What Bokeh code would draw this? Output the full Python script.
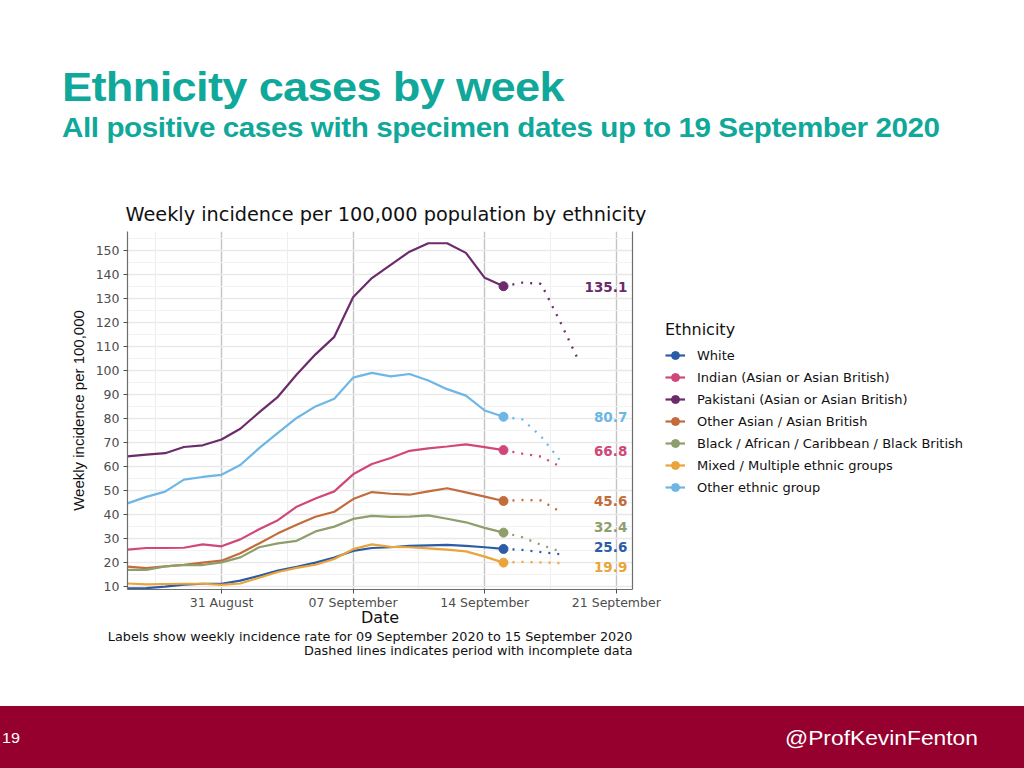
import pandas as pd
from bokeh.plotting import figure
from bokeh.models import (Range1d, FixedTicker, DatetimeTickFormatter, Legend, LegendItem,
                          Title, Div, LinearAxis)
from bokeh.layouts import column, row
from bokeh.embed import file_html
from bokeh.resources import INLINE
from bokeh.core.properties import value

# ---------------- data ----------------
slide_title = "Ethnicity cases by week"
slide_subtitle = "All positive cases with specimen dates up to 19 September 2020"
chart_title = "Weekly incidence per 100,000 population by ethnicity"
caption_1 = "Labels show weekly incidence rate for 09 September 2020 to 15 September 2020"
caption_2 = "Dashed lines indicates period with incomplete data"
x_label = "Date"
y_label = "Weekly incidence per 100,000"
legend_title = "Ethnicity"
page_number = "19"
handle = "@ProfKevinFenton"

dates = ["2020-08-26", "2020-08-27", "2020-08-28", "2020-08-29", "2020-08-30", "2020-08-31",
         "2020-09-01", "2020-09-02", "2020-09-03", "2020-09-04", "2020-09-05", "2020-09-06",
         "2020-09-07", "2020-09-08", "2020-09-09", "2020-09-10", "2020-09-11", "2020-09-12",
         "2020-09-13", "2020-09-14", "2020-09-15"]
dotted_dates = ["2020-09-15", "2020-09-16", "2020-09-17", "2020-09-18", "2020-09-19"]

groups = ["White",
          "Indian (Asian or Asian British)",
          "Pakistani (Asian or Asian British)",
          "Other Asian / Asian British",
          "Black / African / Caribbean / Black British",
          "Mixed / Multiple ethnic groups",
          "Other ethnic group"]

white = [9.2, 9.3, 9.9, 10.7, 11.1, 11.1, 12.4, 14.4, 16.6, 18.2, 19.9, 22.0, 24.8, 26.0,
         26.3, 26.9, 27.1, 27.3, 26.9, 26.3, 25.6]
indian = [25.3, 26.0, 26.0, 26.1, 27.5, 26.7, 29.6, 33.8, 37.6, 43.2, 46.6, 49.6, 56.7, 61.0,
          63.5, 66.5, 67.5, 68.3, 69.2, 68.0, 66.8]
pakistani = [64.2, 64.9, 65.5, 68.1, 68.8, 71.2, 75.7, 82.5, 89.0, 98.3, 106.7, 114.0, 130.5,
             138.5, 144.0, 149.5, 153.0, 153.0, 149.0, 138.6, 135.1]
other_asian = [18.2, 17.6, 18.3, 19.0, 19.9, 20.7, 23.8, 27.9, 32.1, 35.7, 39.0, 41.1, 46.4,
               49.3, 48.6, 48.2, 49.6, 50.9, 49.2, 47.4, 45.6]
black = [16.9, 16.9, 18.3, 18.9, 18.9, 20.0, 22.1, 26.3, 27.9, 29.0, 32.9, 34.9, 38.1, 39.4,
         39.0, 39.1, 39.6, 38.2, 36.7, 34.4, 32.4]
mixed = [11.2, 10.8, 11.0, 11.1, 11.1, 10.6, 11.2, 13.6, 16.0, 17.7, 19.0, 21.4, 25.5, 27.5,
         26.5, 26.3, 25.8, 25.3, 24.6, 22.4, 19.9]
other = [44.6, 47.3, 49.5, 54.5, 55.6, 56.5, 60.6, 67.6, 74.0, 80.2, 85.0, 88.2, 97.0, 99.0,
         97.5, 98.5, 95.8, 92.2, 89.5, 83.3, 80.7]

white_dot = [25.6, 25.2, 24.3, 23.4]
indian_dot = [66.8, 65.3, 64.1, 60.0]
pakistani_dot = [135.1, 136.6, 136.1, 120.5, 104.0]
other_asian_dot = [45.6, 46.0, 45.8, 41.2]
black_dot = [32.4, 30.5, 27.3, 24.6]
mixed_dot = [19.9, 20.2, 20.0, 19.7]
other_dot = [80.7, 79.6, 72.5, 62.6]

y_ticks = [10, 20, 30, 40, 50, 60, 70, 80, 90, 100, 110, 120, 130, 140, 150]
x_tick_dates = ["2020-08-31", "2020-09-07", "2020-09-14", "2020-09-21"]

# ---------------- styles ----------------
colors = ["#2B5DA6", "#D0487B", "#6B2C6C", "#C26C3B", "#8E9E6C", "#EAA43A", "#6DB6E5"]
label_nudge = [-2, 1, 1, 0, -6, 4, 0]   # px, repel-like offsets of end labels
FONT = "DejaVu Sans"


def ms(s):
    return pd.Timestamp(s).value // 10**6


x_start = pd.Timestamp("2020-08-26")
x_end = pd.Timestamp("2020-09-21 20:40")
label_x = pd.Timestamp("2020-09-21 14:00")

p = figure(width=665, height=516, x_axis_type="datetime",
           x_range=Range1d(x_start, x_end), y_range=Range1d(8.7, 157.9),
           output_backend="svg", toolbar_location=None,
           min_border_left=127, min_border_right=33, min_border_top=41, min_border_bottom=117,
           background_fill_color="white", border_fill_color="white")
p.outline_line_color = None

p.title.text = chart_title
p.title.text_font = FONT
p.title.text_font_size = "19.3px"
p.title.text_font_style = "normal"
p.title.text_color = "#111111"
p.title.align = "left"
p.title.offset = -2
p.title.standoff = 12

# axes
p.xaxis.ticker = FixedTicker(ticks=[ms(d) for d in x_tick_dates],
                             minor_ticks=[ms("2020-08-27 12:00"), ms("2020-09-03 12:00"),
                                          ms("2020-09-10 12:00"), ms("2020-09-17 12:00")])
fmt = "%d %B"
p.xaxis.formatter = DatetimeTickFormatter(milliseconds=fmt, seconds=fmt, minsec=fmt, minutes=fmt,
                                          hourmin=fmt, hours=fmt, days=fmt, months=fmt, years=fmt)
p.yaxis.ticker = FixedTicker(ticks=y_ticks, minor_ticks=[t + 5 for t in y_ticks])

for ax in (p.xaxis[0], p.yaxis[0]):
    ax.axis_line_color = "#6e6e6e"
    ax.axis_line_width = 1.2
    ax.major_tick_line_color = "#4d4d4d"
    ax.major_tick_in = 0
    ax.major_tick_out = 4
    ax.minor_tick_line_color = None
    ax.major_label_text_font = FONT
    ax.major_label_text_font_size = "12.5px"
    ax.major_label_text_color = "#4D4D4D"
    ax.axis_label_text_font = FONT
    ax.axis_label_text_font_style = "normal"
    ax.axis_label_text_color = "#111111"

p.xaxis.axis_label = x_label
p.xaxis.axis_label_text_font_size = "16px"
p.xaxis.major_label_standoff = 1
p.xaxis.axis_label_standoff = -5
p.yaxis.axis_label = y_label
p.yaxis.axis_label_text_font = "Liberation Sans"
p.yaxis.axis_label_text_font_size = "15px"
p.yaxis.major_label_standoff = 4
p.yaxis.axis_label_standoff = 6

right_axis = LinearAxis(ticker=FixedTicker(ticks=[]), axis_line_color="#6e6e6e",
                        axis_line_width=1.2, major_tick_line_color=None, major_tick_out=0,
                        major_label_standoff=0, minor_tick_line_color=None,
                        major_label_text_font_size="0px")
p.add_layout(right_axis, "right")

# grid
p.xgrid.grid_line_color = "#c4c4c4"
p.xgrid.grid_line_width = 1.4
p.xgrid.minor_grid_line_color = "#eeeeee"
p.xgrid.minor_grid_line_width = 1
p.ygrid.grid_line_color = "#e9e9e9"
p.ygrid.grid_line_width = 1.5
p.ygrid.minor_grid_line_color = "#f3f3f3"
p.ygrid.minor_grid_line_width = 1

series = [white, indian, pakistani, other_asian, black, mixed, other]
series_dot = [white_dot, indian_dot, pakistani_dot, other_asian_dot, black_dot, mixed_dot, other_dot]

# legend panel: a separate canvas whose ranges keep its copies of the series out of view,
# so only the legend (not clipped by the chart frame) shows there
pl = figure(width=359, height=516, min_border=0, x_axis_location=None, y_axis_location=None,
            x_range=Range1d(0, 1), y_range=Range1d(0, 1),
            toolbar_location=None, output_backend="svg", outline_line_color=None,
            background_fill_color="white", border_fill_color="white")
pl.xgrid.visible = False
pl.ygrid.visible = False

x_solid = pd.to_datetime(dates)
items = []
for name, vals, dvals, col, nudge in zip(groups, series, series_dot, colors, label_nudge):
    p.line(x=x_solid, y=vals, line_color=col, line_width=2.2)
    p.line(x=pd.to_datetime(dotted_dates[:len(dvals)]), y=dvals, line_color=col,
           line_width=2.3, line_dash="2 7")
    p.scatter(x=[x_solid[-1]], y=[vals[-1]], size=9, fill_color=col, line_color=col)
    p.text(x=[label_x], y=[vals[-1]], text=[f"{vals[-1]:.1f}"], text_align="right",
           text_baseline="middle", y_offset=nudge, text_color=col,
           text_font=value(FONT), text_font_style="bold", text_font_size="13.5px")
    leg_line = pl.line(x=x_solid, y=vals, line_color=col, line_width=2.2)
    leg_dot = pl.scatter(x=[x_solid[-1]], y=[vals[-1]], size=6, fill_color=col, line_color=col)
    items.append(LegendItem(label=name, renderers=[leg_line, leg_dot]))

legend = Legend(items=items, location=(0, 92), title=legend_title,
                title_text_font=FONT, title_text_font_size="16px", title_text_font_style="normal",
                title_text_color="#111111", title_standoff=6,
                label_text_font=FONT, label_text_font_size="13px", label_text_color="#111111",
                glyph_width=20, glyph_height=20, label_height=20, label_standoff=12,
                spacing=2, padding=0, margin=0, border_line_color=None,
                background_fill_alpha=0)
pl.add_layout(legend)

p.add_layout(Title(text=caption_1, align="right", text_font=FONT, text_font_size="12.8px",
                   text_font_style="normal", text_color="#111111", standoff=-5), "below")
p.add_layout(Title(text=caption_2, align="right", text_font=FONT, text_font_size="12.8px",
                   text_font_style="normal", text_color="#111111", standoff=-2), "below")

# ---------------- slide decorations ----------------
header = Div(width=1024, height=190, margin=0, text=(
    '<div style="position:relative;width:1024px;height:190px;'
    'font-family:\'Liberation Sans\',Arial,sans-serif;font-weight:bold;color:#10A89A;">'
    f'<div style="position:absolute;left:62px;top:67px;font-size:40px;line-height:1;'
    f'letter-spacing:-0.6px;transform:scaleX(1.13);transform-origin:0 0;white-space:nowrap;">{slide_title}</div>'
    f'<div style="position:absolute;left:62px;top:114px;font-size:28px;line-height:1;'
    f'letter-spacing:-0.4px;transform:scaleX(1.058);transform-origin:0 0;white-space:nowrap;">{slide_subtitle}</div>'
    '</div>'))

footer = Div(width=1024, height=62, margin=0, text=(
    '<div style="position:relative;width:1024px;height:62px;background:#96002F;'
    'font-family:\'Liberation Sans\',Arial,sans-serif;color:#ffffff;">'
    f'<div style="position:absolute;left:2px;top:25px;font-size:14px;line-height:1;'
    f'transform:scaleX(1.15);transform-origin:0 0;">{page_number}</div>'
    f'<div style="position:absolute;left:785px;top:22px;font-size:20px;line-height:1;'
    f'transform:scaleX(1.14);transform-origin:0 0;white-space:nowrap;">{handle}</div>'
    '</div>'))

layout = column(header, row(p, pl, spacing=0), footer, spacing=0)

html = file_html(layout, INLINE, title=slide_title)
html = html.replace("</head>", "<style>html,body{margin:0;padding:0;}</style></head>", 1)
open("out.html", "w").write(html)
